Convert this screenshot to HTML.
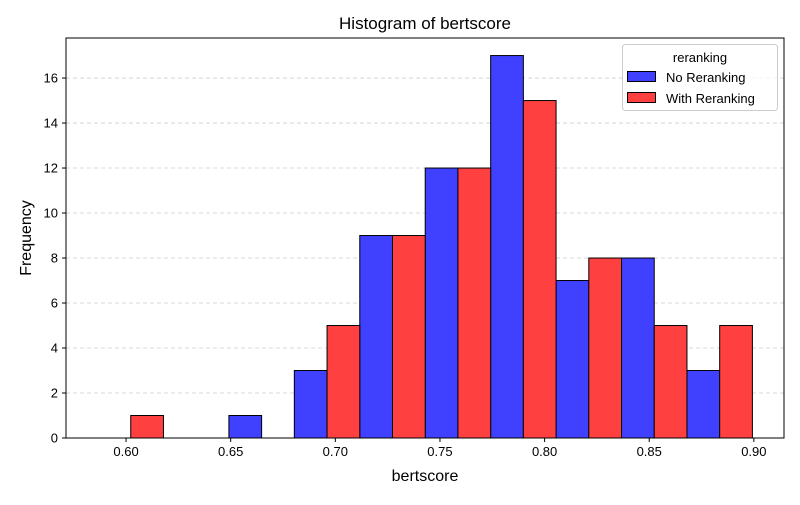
<!DOCTYPE html>
<html><head><meta charset="utf-8"><style>
body{margin:0;background:#fff;}
svg{font-family:"Liberation Sans","DejaVu Sans",sans-serif;}
</style></head><body>
<svg id="chart" width="800" height="500" viewBox="0 0 800 500"></svg>
<script>
const binStart = 0.5866;
const binWidth = 0.03127;
const noReranking = [0, 0, 1, 3, 9, 12, 17, 7, 8, 3];
const withReranking = [1, 0, 0, 5, 9, 12, 15, 8, 5, 5];
const xTicks = [0.60, 0.65, 0.70, 0.75, 0.80, 0.85, 0.90];
const yTicks = [0, 2, 4, 6, 8, 10, 12, 14, 16];

const L=66,R=784,T=38,B=438;
const xMin=0.5713,xMax=0.9144,yMax=17.78;
const sx=v=>L+(v-xMin)/(xMax-xMin)*(R-L);
const sy=v=>B-v/yMax*(B-T);
const svg=document.getElementById('chart');
const NS='http://www.w3.org/2000/svg';
function mk(tag,attrs,parent){const e=document.createElementNS(NS,tag);for(const k in attrs)e.setAttribute(k,attrs[k]);(parent||svg).appendChild(e);return e;}

// grid
yTicks.forEach(v=>{
  if(v===0)return;
  const g=mk('line',{x1:L,x2:R,y1:sy(v),y2:sy(v),stroke:'#ccc','stroke-dasharray':'4,3','stroke-width':0.8});
  
  
});
// bars
function drawSeries(vals,color,off,name){
  vals.forEach((v,i)=>{
    const x0=sx(binStart+i*binWidth+off*binWidth/2), x1=sx(binStart+i*binWidth+(off+1)*binWidth/2);
    const r=mk('rect',{x:x0,y:sy(v),width:x1-x0,height:sy(0)-sy(v),fill:color,stroke:'#000','stroke-width':1});
    
    
  });
}
drawSeries(noReranking,'#4040ff',0,'no-reranking');
drawSeries(withReranking,'#ff4040',1,'with-reranking');
// frame
const fr=mk('rect',{x:L,y:T,width:R-L,height:B-T,fill:'none',stroke:'#000','stroke-width':1});


// ticks
xTicks.forEach(v=>{
  mk('line',{x1:sx(v),x2:sx(v),y1:B,y2:B+4,stroke:'#000'});
  const t=mk('text',{x:sx(v),y:B+18,'text-anchor':'middle','font-size':13});
  t.textContent=v.toFixed(2);
  
  
});
yTicks.forEach(v=>{
  mk('line',{x1:L-4,x2:L,y1:sy(v),y2:sy(v),stroke:'#000'});
  const t=mk('text',{x:L-8,y:sy(v)+4.5,'text-anchor':'end','font-size':13});
  t.textContent=v;
  
  
});
</script>
<svg width="800" height="500" style="position:absolute;left:0;top:0" font-family="Liberation Sans, DejaVu Sans, sans-serif">
<text x="425" y="29" text-anchor="middle" font-size="17">Histogram of bertscore</text>
<text x="425" y="481" text-anchor="middle" font-size="16">bertscore</text>
<text x="31" y="238" text-anchor="middle" font-size="16" transform="rotate(-90 31 238)">Frequency</text>
<g>
<rect x="622.5" y="44.5" width="155" height="66" rx="3" fill="#fff" fill-opacity="0.8" stroke="#ccc"/>
<text x="700" y="62" text-anchor="middle" font-size="13">reranking</text>
<rect x="627.5" y="71.5" width="28" height="10" fill="#4040ff" stroke="#000"/>
<text x="666" y="82" font-size="13">No Reranking</text>
<rect x="627.5" y="92.5" width="28" height="10" fill="#ff4040" stroke="#000"/>
<text x="666" y="103" font-size="13">With Reranking</text>
</g>
</svg>
</body></html>
